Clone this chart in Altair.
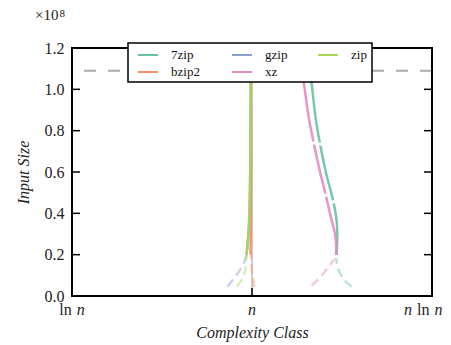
import altair as alt
import pandas as pd

FONT = "Liberation Serif"

# ---------------- data ----------------
series = ["7zip", "bzip2", "gzip", "xz", "zip"]
colors = ["#66c2a5", "#fc8d62", "#8da0cb", "#e78ac3", "#a6d854"]

# complexity position: -1 = ln n, 0 = n, 1 = n ln n
size_7zip = [0.19e8, 0.24e8, 0.30e8, 0.38e8, 0.456e8, 0.60e8, 0.735e8, 0.87e8, 1.0e8, 1.09e8]
pos_7zip = [0.470, 0.472, 0.474, 0.468, 0.452, 0.410, 0.378, 0.352, 0.335, 0.322]
fade_size_7zip = [0.19e8, 0.15e8, 0.11e8, 0.075e8, 0.045e8]
fade_pos_7zip = [0.470, 0.472, 0.489, 0.515, 0.554]

size_xz = [0.19e8, 0.24e8, 0.30e8, 0.40e8, 0.488e8, 0.60e8, 0.74e8, 0.87e8, 1.0e8, 1.09e8]
pos_xz = [0.466, 0.468, 0.461, 0.433, 0.410, 0.378, 0.343, 0.314, 0.293, 0.279]
fade_size_xz = [0.19e8, 0.14e8, 0.09e8, 0.05e8]
fade_pos_xz = [0.466, 0.424, 0.378, 0.331]

size_zip = [0.20e8, 0.24e8, 0.30e8, 0.40e8, 0.60e8, 0.80e8, 1.0e8, 1.09e8]
pos_zip = [-0.030, -0.026, -0.020, -0.014, -0.010, -0.008, -0.007, -0.007]
fade_size_zip = [0.20e8, 0.15e8, 0.118e8, 0.075e8, 0.045e8]
fade_pos_zip = [-0.030, -0.035, -0.039, -0.060, -0.085]

size_gzip = [0.20e8, 0.30e8, 0.40e8, 0.60e8, 0.80e8, 1.0e8, 1.09e8]
pos_gzip = [-0.030, -0.020, -0.014, -0.010, -0.008, -0.007, -0.007]
fade_size_gzip = [0.20e8, 0.16e8, 0.126e8, 0.093e8, 0.045e8]
fade_pos_gzip = [-0.030, -0.045, -0.067, -0.094, -0.136]

size_bzip2 = [0.20e8, 0.30e8, 0.40e8, 0.60e8, 0.80e8, 1.0e8, 1.09e8]
pos_bzip2 = [-0.008, -0.007, -0.006, -0.005, -0.005, -0.005, -0.005]
fade_size_bzip2 = [0.20e8, 0.15e8, 0.11e8, 0.075e8, 0.045e8]
fade_pos_bzip2 = [-0.006, -0.003, 0.002, 0.007, 0.013]

# knots where the solid curves show small breaks
gap_size_7zip = [0.19e8, 0.456e8, 0.735e8]
gap_pos_7zip = [0.470, 0.452, 0.378]
gap_size_xz = [0.19e8, 0.488e8, 0.74e8]
gap_pos_xz = [0.466, 0.410, 0.343]

max_input = 1.09e8
y_ticks = [0, 0.2e8, 0.4e8, 0.6e8, 0.8e8, 1.0e8, 1.2e8]
x_ticks = [-1, 0, 1]
x_tick_labels = ["ln n", "n", "n ln n"]
offset_text = "\u00d710"
offset_exp = "8"

# ---------------- tables ----------------
def table(pairs):
    rows = []
    for name, ys_, xs_ in pairs:
        for y, x in zip(ys_, xs_):
            rows.append({"compressor": name, "size": y, "pos": x})
    return pd.DataFrame(rows)

solid_df = table([("7zip", size_7zip, pos_7zip), ("bzip2", size_bzip2, pos_bzip2),
                  ("gzip", size_gzip, pos_gzip), ("xz", size_xz, pos_xz),
                  ("zip", size_zip, pos_zip)])
fade_df = table([("7zip", fade_size_7zip, fade_pos_7zip), ("bzip2", fade_size_bzip2, fade_pos_bzip2),
                 ("gzip", fade_size_gzip, fade_pos_gzip), ("xz", fade_size_xz, fade_pos_xz),
                 ("zip", fade_size_zip, fade_pos_zip)])
gap_df = table([("7zip", gap_size_7zip, gap_pos_7zip), ("xz", gap_size_xz, gap_pos_xz)])

W, H = 360, 248
PAD_L, PAD_R, PAD_T, PAD_B = 64, 11, 40, 49

xs = alt.Scale(domain=[-1, 1], nice=False, zero=False)
ys = alt.Scale(domain=[0, 1.2e8], nice=False, zero=False)
cs = alt.Scale(domain=series, range=colors)

x_axis = alt.Axis(labels=False, ticks=False, domain=False, grid=False, title="Complexity Class",
                  titleFont=FONT, titleFontSize=16, titleFontStyle="italic", titleFontWeight="normal",
                  titleColor="#222222", titlePadding=28)
y_axis = alt.Axis(values=y_ticks, labelExpr="format(datum.value / 1e8, '.1f')", ticks=False, tickSize=0,
                  domain=False, grid=False, labelFont=FONT, labelFontSize=16, labelColor="#222222",
                  labelPadding=8, title="Input Size", titleFont=FONT, titleFontSize=16,
                  titleFontStyle="italic", titleFontWeight="normal", titleColor="#222222", titlePadding=13)

vline = alt.Chart(pd.DataFrame({"v": [0]})).mark_rule(color="#cccccc", strokeWidth=2).encode(
    x=alt.X("v:Q", scale=xs, axis=x_axis))
hline = alt.Chart(pd.DataFrame({"v": [max_input]})).mark_rule(
    color="#aaaaaa", strokeWidth=2, strokeDash=[12, 12]).encode(
    y=alt.Y("v:Q", scale=ys, axis=y_axis))

solid = alt.Chart(solid_df).mark_line(strokeWidth=2.5, opacity=0.9,
                                      interpolate="catmull-rom").encode(
    x=alt.X("pos:Q", scale=xs, axis=x_axis),
    y=alt.Y("size:Q", scale=ys, axis=y_axis),
    color=alt.Color("compressor:N", scale=cs, legend=None),
    order=alt.Order("size:Q"))

fade = alt.Chart(fade_df).mark_line(strokeWidth=2.5, opacity=0.45, strokeDash=[9, 5],
                                    interpolate="catmull-rom").encode(
    x=alt.X("pos:Q", scale=xs, axis=x_axis),
    y=alt.Y("size:Q", scale=ys, axis=y_axis),
    color=alt.Color("compressor:N", scale=cs, legend=None),
    order=alt.Order("size:Q"))

gaps = alt.Chart(gap_df).mark_tick(orient="horizontal", color="white", size=8, thickness=3,
                                   opacity=1).encode(
    x=alt.X("pos:Q", scale=xs), y=alt.Y("size:Q", scale=ys))

# frame (spines)
frame = alt.Chart(pd.DataFrame({"k": [0]})).mark_rect(
    fillOpacity=0, stroke="black", strokeWidth=2).encode(
    x=alt.value(0), x2=alt.value(W), y=alt.value(0), y2=alt.value(H))

# inward ticks
yt = pd.DataFrame({"v": y_ticks})
xt = pd.DataFrame({"v": x_ticks})
tick_left = alt.Chart(yt).mark_rule(color="black", strokeWidth=1.5).encode(
    y=alt.Y("v:Q", scale=ys), x=alt.value(0), x2=alt.value(8))
tick_right = alt.Chart(yt).mark_rule(color="black", strokeWidth=1.5).encode(
    y=alt.Y("v:Q", scale=ys), x=alt.value(W - 8), x2=alt.value(W))
tick_bottom = alt.Chart(xt).mark_rule(color="black", strokeWidth=1.5).encode(
    x=alt.X("v:Q", scale=xs), y=alt.value(H - 8), y2=alt.value(H))
tick_top = alt.Chart(xt).mark_rule(color="black", strokeWidth=1.5).encode(
    x=alt.X("v:Q", scale=xs), y=alt.value(0), y2=alt.value(8))

# x tick labels with italic n
W_TOK = {"ln": 12.4, "n": 8.0}
SPACE = 5.0
label_layers = []
for k, (tv, lab) in enumerate(zip(x_ticks, x_tick_labels)):
    toks = lab.split(" ")
    total = sum(W_TOK[t] for t in toks) + SPACE * (len(toks) - 1)
    off = -total / 2
    if k == len(x_ticks) - 1:          # keep the last label inside the page
        off = PAD_R - 0.5 - total
    for t in toks:
        label_layers.append(
            alt.Chart(pd.DataFrame({"v": [tv], "t": [t]})).mark_text(
                align="left", baseline="alphabetic", dx=off, dy=18.7, font=FONT, fontSize=16,
                fontStyle="italic" if t == "n" else "normal", color="#222222").encode(
                x=alt.X("v:Q", scale=xs), y=alt.value(H), text="t:N"))
        off += W_TOK[t] + SPACE

offset_layer = alt.Chart(pd.DataFrame({"t": [offset_text]})).mark_text(
    align="left", baseline="alphabetic", font=FONT, fontSize=15, color="#222222").encode(
    x=alt.value(-37), y=alt.value(-28.5), text="t:N")
exp_layer = alt.Chart(pd.DataFrame({"t": [offset_exp]})).mark_text(
    align="left", baseline="alphabetic", font=FONT, fontSize=11, color="#222222").encode(
    x=alt.value(-12.5), y=alt.value(-31), text="t:N")

# ---------------- legend (3 columns, filled column by column) ----------------
LEG_X, LEG_Y, LEG_W, LEG_H = 56, -5, 244, 39
COL_X = [66, 160, 246]
ROW_Y = [7, 24]
leg_rows = []
for i, name in enumerate(series):
    c, r = i // 2, i % 2
    leg_rows.append({"compressor": name, "sx": COL_X[c], "sx2": COL_X[c] + 20,
                     "tx": COL_X[c] + 33, "sy": ROW_Y[r]})
leg_df = pd.DataFrame(leg_rows)

leg_box = alt.Chart(pd.DataFrame({"k": [0]})).mark_rect(
    fill="white", stroke="black", strokeWidth=1.5).encode(
    x=alt.value(LEG_X), x2=alt.value(LEG_X + LEG_W), y=alt.value(LEG_Y), y2=alt.value(LEG_Y + LEG_H))
leg_sym = alt.Chart(leg_df).mark_rule(strokeWidth=2).encode(
    x=alt.X("sx:Q", scale=None), x2="sx2:Q", y=alt.Y("sy:Q", scale=None),
    color=alt.Color("compressor:N", scale=cs, legend=None))
leg_txt = alt.Chart(leg_df).mark_text(
    align="left", baseline="middle", font=FONT, fontSize=13, color="#111111").encode(
    x=alt.X("tx:Q", scale=None), y=alt.Y("sy:Q", scale=None), text="compressor:N")

chart = alt.layer(
    vline, hline, solid, fade, gaps, frame, tick_left, tick_right, tick_bottom, tick_top,
    *label_layers, offset_layer, exp_layer, leg_box, leg_sym, leg_txt
).properties(
    width=W, height=H,
    background="white",
    autosize=alt.AutoSizeParams(type="none"),
    padding={"left": PAD_L, "top": PAD_T, "right": PAD_R, "bottom": PAD_B},
).configure_view(stroke=None, fill="white")

chart.save("out.html", embed_options={"renderer": "svg", "actions": False})
